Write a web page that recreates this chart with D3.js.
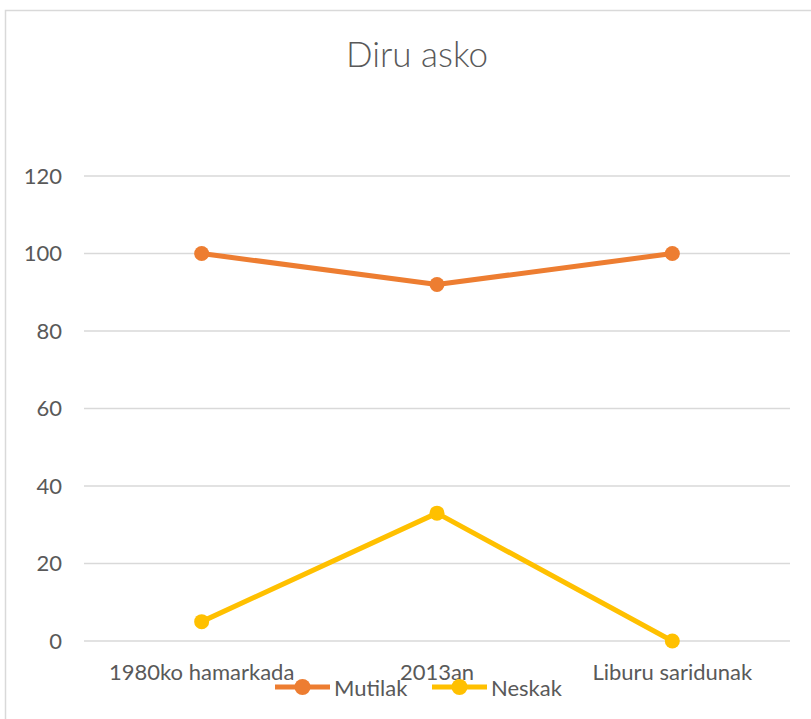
<!DOCTYPE html>
<html>
<head>
  <meta charset="utf-8">
  <title>Diru asko</title>
  <script src="https://d3js.org/d3.v7.min.js"></script>
  <style>
    body { margin: 0; background: #fff; }
    text { font-family: Lato, "Open Sans", sans-serif; fill: #595959; }
  </style>
</head>
<body>
<div id="chart"></div>
<script>
  const categories = ["1980ko hamarkada", "2013an", "Liburu saridunak"];
  const mutilak = [100, 92, 100];
  const neskak = [5, 33, 0];
  const yTicks = [0, 20, 40, 60, 80, 100, 120];
  const seriesNames = ["Mutilak", "Neskak"];
  const colors = ["#ED7D31", "#FFC000"];

  const width = 811;
  const height = 719;
  const margin = { left: 84, right: 21, top: 176, bottom: 78 };

  const svg = d3.select("#chart")
          .append("svg")
          .attr("width", width)
          .attr("height", height);

  // chart frame (cut off on the right and bottom like the source)
  svg.append("rect")
          .attr("x", 5.5)
          .attr("y", 10.5)
          .attr("width", 900)
          .attr("height", 900)
          .attr("fill", "#fff")
          .attr("stroke", "#d9d9d9")
          .attr("stroke-width", 1.5);

  const x = d3.scaleBand()
          .domain(categories)
          .range([margin.left, width - margin.right]);

  const y = d3.scaleLinear()
          .domain([0, 120])
          .range([height - margin.bottom, margin.top]);

  // gridlines
  svg.append("g")
          .selectAll("line")
          .data(yTicks)
          .join("line")
          .attr("x1", margin.left)
          .attr("x2", width - margin.right)
          .attr("y1", d => y(d))
          .attr("y2", d => y(d))
          .attr("stroke", "#d9d9d9")
          .attr("stroke-width", 1.5);

  const yAxis = svg.append("g")
          .attr("transform", `translate(${margin.left},0)`)
          .call(d3.axisLeft(y).tickValues(yTicks).tickSize(0).tickPadding(22));
  yAxis.select(".domain").remove();
  yAxis.attr("font-family", null).attr("font-size", 22);
  yAxis.selectAll("text").attr("fill", "#595959");

  const xAxis = svg.append("g")
          .attr("transform", `translate(0,${y(0)})`)
          .call(d3.axisBottom(x).tickSize(0).tickPadding(23));
  xAxis.select(".domain").remove();
  xAxis.attr("font-family", null).attr("font-size", 22);
  xAxis.selectAll("text").attr("fill", "#595959");

  const cx = d => x(d) + x.bandwidth() / 2;
  const line = d3.line()
          .x(d => cx(d.cat))
          .y(d => y(d.v));

  [mutilak, neskak].forEach((vals, i) => {
    const pts = vals.map((v, j) => ({ cat: categories[j], v }));
    svg.append("path")
            .datum(pts)
            .attr("d", line)
            .attr("fill", "none")
            .attr("stroke", colors[i])
            .attr("stroke-width", 5)
            .attr("stroke-linejoin", "round");
    svg.append("g")
            .selectAll("circle")
            .data(pts)
            .join("circle")
            .attr("cx", d => cx(d.cat))
            .attr("cy", d => y(d.v))
            .attr("r", 7.5)
            .attr("fill", colors[i]);
  });

  // title
  svg.append("text")
          .attr("x", 417)
          .attr("y", 67)
          .attr("text-anchor", "middle")
          .attr("font-size", 35)
          .attr("font-weight", 300)
          .text("Diru asko");

  // legend
  const legend = svg.append("g").attr("transform", "translate(275,687)");
  const items = legend.selectAll("g")
          .data(seriesNames)
          .join("g")
          .attr("transform", (d, i) => `translate(${i * 157},0)`);
  items.append("line")
          .attr("x1", 0).attr("x2", 55)
          .attr("stroke", (d, i) => colors[i])
          .attr("stroke-width", 5);
  items.append("circle")
          .attr("cx", 27.5)
          .attr("r", 8)
          .attr("fill", (d, i) => colors[i]);
  items.append("text")
          .attr("x", 59)
          .attr("y", 9)
          .attr("font-size", 22)
          .text(d => d);
</script>
</body>
</html>
